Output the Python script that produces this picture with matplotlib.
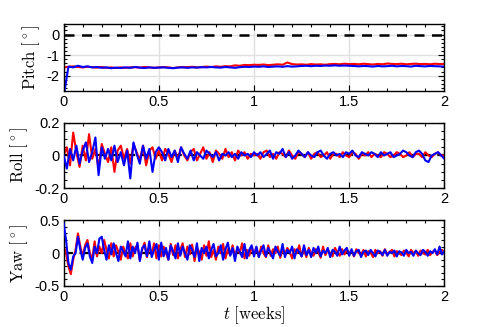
import numpy as np
import matplotlib
matplotlib.use("Agg")
import matplotlib.pyplot as plt
from matplotlib.ticker import MultipleLocator

plt.rcParams['font.family'] = ['Liberation Sans', 'DejaVu Sans']
plt.rcParams['mathtext.fontset'] = 'cm'
plt.rcParams['axes.unicode_minus'] = False

# ---------------- data ----------------
pitch_red = [
    -1.60, -1.57, -1.55, -1.58, -1.60, -1.57, -1.59, -1.61, -1.58, -1.62, -1.60, -1.63, -1.60, -1.62, -1.60, -1.59, -1.61, -1.58, -1.60, -1.62, -1.60,
    -1.58, -1.60, -1.63, -1.60, -1.58, -1.59, -1.57, -1.60, -1.58, -1.56, -1.58, -1.55, -1.57, -1.54, -1.55, -1.50, -1.52, -1.48, -1.49, -1.47,
    -1.48, -1.46, -1.49, -1.47, -1.45, -1.47, -1.36, -1.44, -1.46, -1.45, -1.47, -1.44, -1.46, -1.45, -1.47, -1.44, -1.43, -1.45, -1.42, -1.44,
    -1.43, -1.45, -1.42, -1.44, -1.46, -1.43, -1.45, -1.41, -1.43, -1.44, -1.42, -1.45, -1.43, -1.42, -1.44, -1.43, -1.45, -1.42, -1.44, -1.43]
pitch_blue = [
    -3.00, -1.56, -1.60, -1.52, -1.58, -1.55, -1.60, -1.58, -1.62, -1.60, -1.64, -1.61, -1.63, -1.60, -1.62, -1.58, -1.61, -1.63, -1.60, -1.62, -1.61,
    -1.60, -1.62, -1.64, -1.61, -1.60, -1.62, -1.60, -1.61, -1.59, -1.60, -1.58, -1.60, -1.61, -1.58, -1.60, -1.62, -1.59, -1.57, -1.58, -1.56,
    -1.57, -1.55, -1.58, -1.56, -1.55, -1.57, -1.54, -1.56, -1.55, -1.53, -1.52, -1.54, -1.52, -1.53, -1.51, -1.52, -1.50, -1.52, -1.51, -1.52,
    -1.53, -1.55, -1.53, -1.54, -1.56, -1.53, -1.55, -1.54, -1.52, -1.55, -1.53, -1.54, -1.56, -1.52, -1.54, -1.55, -1.53, -1.54, -1.55, -1.56]

roll_red = [
    0.00, 0.05, -0.06, 0.14, 0.02, -0.07, 0.06, -0.03, 0.13, -0.02, 0.04, -0.08, 0.07, 0.01, -0.04, 0.05, -0.10, 0.03, 0.06, -0.02, 0.04,
    -0.05, 0.07, 0.02, -0.03, 0.06, -0.06, 0.03, 0.05, -0.02, 0.03,
    -0.03, 0.04, 0.01, -0.04, 0.03, -0.02, 0.05, 0.00, -0.03, 0.02, 0.04, -0.03, 0.01, 0.05, -0.02, 0.02, -0.04, 0.03, 0.01, -0.02,
    0.04, -0.01, 0.02, -0.03, 0.03, 0.00, 0.02, -0.02, 0.01, 0.00,
    0.01, -0.02, 0.02, 0.03, -0.01, 0.01, -0.02, 0.02, 0.01, -0.01, 0.03, 0.00, -0.02, 0.02, 0.01, -0.01, 0.02, -0.02, 0.01, 0.02,
    -0.01, 0.00, 0.02, -0.02, 0.01, 0.01, -0.01, 0.02, 0.00, -0.01, 0.02, 0.01, -0.02, 0.01, 0.00, 0.02, -0.01, 0.01, 0.00, -0.01,
    0.02, 0.01, -0.01, 0.00, 0.02, 0.01, -0.01, 0.00, 0.02, -0.01, 0.01, 0.01, -0.01, 0.02, 0.00, -0.01, 0.01, 0.02, 0.00, 0.00]
roll_blue = [
    0.00, -0.08, 0.04, -0.03, 0.06, -0.05, 0.03, 0.08, -0.04, 0.02, 0.11, -0.12, 0.05, -0.02, 0.04, -0.03, 0.06, -0.04, 0.02, -0.06,
    0.03, -0.14, 0.08, 0.01, -0.05, 0.06, -0.02, 0.04, -0.10, 0.02, 0.05,
    0.02, -0.03, 0.04, -0.01, 0.03, -0.04, 0.05, 0.01, -0.02, 0.03, -0.03, 0.02, 0.00, -0.02, 0.03, 0.01, -0.01, 0.02, -0.03, 0.01,
    0.00, 0.02, -0.01, 0.01, -0.02, 0.02, 0.00, 0.01, -0.01, 0.02,
    0.00, 0.02, -0.01, 0.01, 0.03, -0.02, 0.02, 0.01, 0.04, -0.01, 0.02, -0.02, 0.00, 0.03, 0.01, -0.01, 0.02, 0.00, -0.01, 0.02,
    0.03, 0.00, -0.02, 0.01, 0.02, 0.00, 0.01, -0.01, 0.02, 0.01, 0.03, 0.00, -0.01, 0.02, 0.01, 0.00, 0.02, 0.01, -0.01, 0.02,
    0.00, 0.01, 0.02, -0.01, 0.00, 0.01, 0.03, 0.02, 0.00, -0.01, 0.02, 0.03, 0.01, -0.03, -0.04, 0.00, 0.01, 0.02, 0.00, -0.02]

yaw_red = [
    0.10, 0.00, -0.20, -0.32, -0.10, 0.05, 0.30, 0.10, -0.05, 0.12, 0.20, 0.00, -0.10, 0.18, -0.05, 0.10, 0.00, 0.20, 0.05, -0.08,
    0.15, -0.05, 0.12, 0.02, -0.10, 0.10, 0.00, -0.08, 0.15, -0.05, 0.08, 0.12, -0.10, 0.05, 0.16, -0.06, 0.10, -0.02, 0.15, -0.08, 0.12,
    -0.05, 0.10, 0.00, -0.10, 0.14, -0.03, 0.12, -0.08, 0.05, 0.15, -0.06, 0.10, -0.02, 0.13, -0.12, 0.08, 0.02, -0.10, 0.12, -0.04,
    0.18, -0.06, 0.05, -0.10, 0.10, 0.00, 0.14, -0.08, 0.06, -0.03, 0.12, -0.06, 0.08, 0.00, 0.15, -0.08, 0.05, -0.04, 0.10, -0.02,
    0.08, -0.05, 0.10, 0.00, -0.06, 0.12, -0.04, 0.06, 0.00, 0.10, -0.07, 0.05, -0.02, 0.08, 0.02, -0.08, 0.06, 0.00, 0.12, -0.05,
    0.05, -0.06, 0.08, 0.00, -0.04, 0.06, 0.02, -0.07, 0.10, -0.03, 0.05, 0.00, -0.05, 0.08, 0.02, -0.04, 0.06, -0.02, 0.05, 0.00,
    0.04, -0.05, 0.06, 0.00, -0.03, 0.05, -0.05, 0.03, 0.01, -0.06, 0.05, 0.00, 0.03, -0.04, 0.06, -0.02, 0.02, 0.05, -0.05, 0.03,
    0.00, -0.03, 0.04, 0.01, -0.05, 0.05, 0.00, 0.03, -0.04, 0.04, 0.00, -0.02, 0.05, -0.03, 0.02, 0.04, -0.03, 0.02, 0.05, 0.00]
yaw_blue = [
    0.45, 0.20, -0.15, -0.25, -0.05, 0.00, 0.25, 0.05, -0.10, 0.08, 0.15, -0.05, -0.15, 0.10, 0.00, 0.22, 0.25, 0.05, -0.10, 0.12,
    -0.02, 0.15, 0.00, -0.12, 0.10, 0.03, -0.05, 0.18, -0.08, 0.10, 0.00, 0.16, -0.12, 0.08, 0.12, -0.05, 0.18, -0.06, 0.05, 0.14, -0.10,
    0.16, -0.05, 0.08, -0.10, 0.12, 0.02, -0.08, 0.15, -0.04, 0.10, 0.00, -0.10, 0.12, 0.05, -0.06, 0.15, -0.12, 0.08, 0.00, 0.10,
    -0.08, 0.05, 0.14, -0.05, 0.00, 0.12, -0.10, 0.06, 0.16, -0.04, 0.08, -0.12, 0.10, 0.02, -0.06, 0.14, -0.08, 0.05, 0.12, -0.05,
    0.10, -0.06, 0.04, 0.12, -0.05, 0.08, 0.00, -0.08, 0.10, 0.02, -0.04, 0.14, -0.06, 0.05, 0.00, 0.10, -0.08, 0.06, 0.02, -0.05,
    0.12, -0.03, 0.05, -0.06, 0.08, 0.00, 0.10, -0.05, 0.04, 0.00, 0.08, -0.06, 0.05, 0.02, -0.04, 0.10, -0.02, 0.04, 0.08, -0.04,
    0.06, -0.04, 0.03, 0.05, -0.06, 0.02, 0.04, -0.03, 0.05, 0.00, -0.05, 0.04, 0.02, -0.03, 0.05, -0.04, 0.02, 0.00, 0.04, -0.05,
    0.03, 0.01, -0.04, 0.05, 0.00, 0.02, -0.04, 0.04, 0.00, -0.03, 0.05, 0.02, -0.04, 0.03, 0.00, 0.06, -0.02, 0.10, -0.02, 0.03]

x_ticks = [0, 0.5, 1, 1.5, 2]
pitch_ticks = [0, -1, -2]
roll_ticks = [-0.2, 0, 0.2]
yaw_ticks = [-0.5, 0, 0.5]

# ---------------- figure ----------------
fig = plt.figure(figsize=(4.91, 3.27), dpi=100)
L, W = 0.1297, 0.7753
ax1 = fig.add_axes([L, 0.7217, W, 0.2040])
ax2 = fig.add_axes([L, 0.4242, W, 0.2006])
ax3 = fig.add_axes([L, 0.1254, W, 0.2009])

def style(ax, yticks, ylim, yminor, ylabel):
    ax.set_xlim(0, 2)
    ax.set_ylim(*ylim)
    ax.set_xticks(x_ticks)
    ax.set_xticklabels(['0', '0.5', '1', '1.5', '2'])
    ax.set_yticks(yticks)
    ax.xaxis.set_minor_locator(MultipleLocator(0.1))
    ax.yaxis.set_minor_locator(MultipleLocator(yminor))
    ax.tick_params(which='both', direction='in', top=True, right=True,
                   labelsize=10.5, width=0.8, colors='black', pad=3)
    ax.tick_params(which='major', length=4)
    ax.tick_params(which='minor', length=2.5)
    ax.grid(True, which='major', color='#e0e0e0', lw=1.0)
    ax.set_axisbelow(True)
    for s in ax.spines.values():
        s.set_linewidth(1.0)
    ax.set_ylabel(ylabel, fontsize=12, labelpad=3)

lw = 1.5
ax1.plot(np.linspace(0, 2, len(pitch_red)), pitch_red, color='#ff0000', lw=lw)
ax1.plot(np.linspace(0, 2, len(pitch_blue)), pitch_blue, color='#0000ff', lw=lw)
ax1.axhline(0, color='black', ls=(0, (4, 3)), lw=1.8)
style(ax1, pitch_ticks, (-2.75, 0.5), 0.2, r'$\mathrm{Pitch}\ [^\circ]$')
ax1.set_yticklabels(['0', '-1', '-2'])

ax2.plot(np.linspace(0, 2, len(roll_red)), roll_red, color='#ff0000', lw=lw, zorder=2)
ax2.plot(np.linspace(0, 2, len(roll_blue)), roll_blue, color='#0000ff', lw=lw, zorder=3)
ax2.axhline(0, color='black', ls=(0, (4, 3)), lw=1.6, zorder=1.5)
style(ax2, roll_ticks, (-0.2, 0.2), 0.05, r'$\mathrm{Roll}\ [^\circ]$')
ax2.set_yticklabels(['-0.2', '0', '0.2'])

ax3.plot(np.linspace(0, 2, len(yaw_red)), yaw_red, color='#ff0000', lw=lw, zorder=2)
ax3.plot(np.linspace(0, 2, len(yaw_blue)), yaw_blue, color='#0000ff', lw=lw, zorder=3)
ax3.axhline(0, color='black', ls=(0, (4, 3)), lw=1.6, zorder=1.5)
style(ax3, yaw_ticks, (-0.5, 0.5), 0.1, r'$\mathrm{Yaw}\ [^\circ]$')
ax3.set_yticklabels(['-0.5', '0', '0.5'])
ax3.set_xlabel(r'$t\ \mathrm{[weeks]}$', fontsize=12, labelpad=0)

fig.savefig('out.png', dpi=100)
